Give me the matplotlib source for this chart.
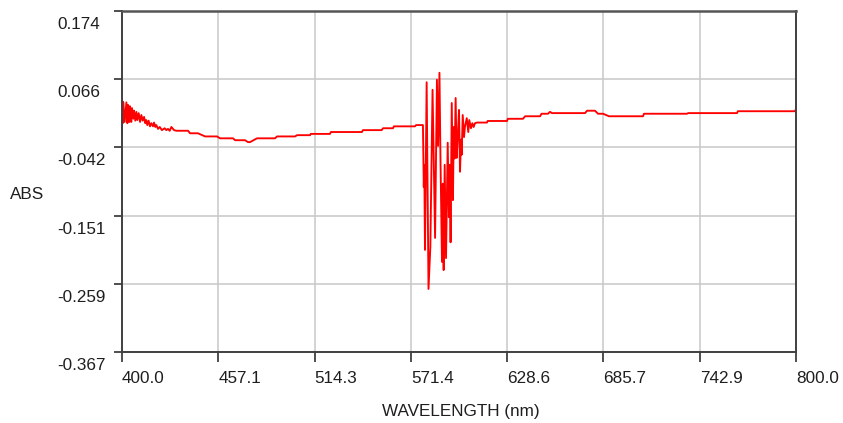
import matplotlib
matplotlib.use("Agg")
from matplotlib import pyplot as plt
from matplotlib.transforms import ScaledTranslation

plt.rcParams["font.family"] = "Liberation Sans"
plt.rcParams["font.size"] = 12.3

# Absorbance scan, 400-800 nm
wavelength = [
    400.0, 400.2, 400.4, 400.8, 401.6, 402.6, 403.2, 403.6, 404.4, 404.7,
    405.5, 405.9, 406.7, 407.1, 407.9, 408.5, 409.1, 409.9, 410.7, 411.5,
    412.3, 413.1, 413.8, 414.4, 415.0, 415.8, 416.6, 417.4, 418.4, 419.0,
    419.8, 420.4, 421.4, 422.4, 423.7, 425.3, 426.3, 427.3, 428.3, 429.3,
    430.9, 432.2, 439.2, 440.4, 445.1, 449.3, 456.4, 458.2, 465.9, 467.1,
    473.0, 474.8, 476.0, 480.1, 490.8, 492.0, 502.7, 503.9, 511.6, 512.0,
    523.4, 524.0, 542.4, 543.0, 554.1, 554.9, 560.8, 561.4, 573.9, 574.5,
    578.6,
    579.1, 579.4, 579.8, 580.8, 581.9, 583.0, 584.3, 585.0, 585.8, 586.9,
    587.6, 588.4, 589.0, 589.9, 590.4, 590.9, 591.5, 592.3, 593.3, 594.0,
    594.5, 595.0, 595.7, 596.4, 596.9, 597.4, 598.0, 598.6, 599.2, 600.0,
    600.6, 601.2, 601.6, 602.2, 603.0, 603.5, 604.6, 605.5, 606.1, 607.1,
    607.9, 608.7, 609.5, 610.7,
    616.6, 617.0, 628.5, 629.0, 638.0, 639.2, 648.1, 649.0, 652.8, 654.0,
    655.2, 674.8, 676.0, 680.7, 682.5, 685.5, 689.0, 709.2, 709.8, 735.3,
    736.0, 765.0, 765.5, 799.4, 800.0,
]
absorbance = [
    -0.018, 0.031, -0.004, 0.029, -0.002, 0.029, -0.004, 0.025, -0.002, 0.023,
    -0.002, 0.020, 0.003, 0.016, 0.000, 0.014, 0.001, 0.012, -0.002, 0.009,
    0.000, 0.006, -0.004, 0.001, -0.007, 0.000, -0.009, -0.004, -0.009, -0.003,
    -0.010, -0.007, -0.013, -0.010, -0.015, -0.012, -0.015, -0.013, -0.016, -0.010,
    -0.015, -0.016, -0.016, -0.020, -0.020, -0.025, -0.025, -0.028, -0.028, -0.031,
    -0.031, -0.034, -0.034, -0.028, -0.028, -0.025, -0.025, -0.023, -0.023, -0.021,
    -0.021, -0.018, -0.018, -0.015, -0.015, -0.012, -0.012, -0.009, -0.009, -0.007,
    -0.007,
    -0.105, -0.070, -0.205, 0.061, -0.267, -0.200, 0.049, -0.060, -0.186, 0.065,
    -0.040, 0.076, -0.059, -0.224, -0.100, -0.237, -0.070, -0.218, -0.035, -0.153,
    -0.070, -0.193, 0.028, -0.126, -0.010, -0.060, 0.036, -0.059, -0.030, 0.017,
    -0.081, -0.030, -0.054, 0.009, -0.026, -0.010, 0.004, -0.018, 0.001, -0.012,
    -0.004, -0.010, -0.004, -0.003,
    -0.003, -0.0005, -0.0005, 0.003, 0.003, 0.007, 0.007, 0.011, 0.011, 0.014,
    0.012, 0.012, 0.0158, 0.0158, 0.011, 0.011, 0.007, 0.007, 0.011, 0.011,
    0.012, 0.012, 0.015, 0.015, 0.0185,
]

xticks = [400.0, 457.1, 514.3, 571.4, 628.6, 685.7, 742.9, 800.0]
yticks = [-0.367, -0.259, -0.151, -0.042, 0.066, 0.174]

text_col = '#1e1e1e'
axis_col = '#404040'

fig = plt.figure(figsize=(8.43, 4.23), dpi=100)
ax = fig.add_axes([122/843, 1 - 352/423, 674/843, 341/423])

ax.plot(wavelength, absorbance, color='#ff0000', lw=1.35)

ax.set_xlim(400, 800)
ax.set_ylim(-0.367, 0.174)
ax.set_xticks(xticks)
ax.set_xticklabels(['%.1f' % v for v in xticks])
ax.set_yticks(yticks)
ax.set_yticklabels(['%.3f' % v for v in yticks])

ax.grid(True, color='#c8c8c8', lw=1.1)
ax.set_axisbelow(True)
for s in ax.spines.values():
    s.set_color(axis_col)
    s.set_linewidth(1.4)
ax.spines['top'].set_color('#555555')
ax.spines['top'].set_linewidth(1.8)

ax.tick_params(axis='x', length=7.2, width=1.3, color=axis_col, pad=15.1,
               labelcolor=text_col)
ax.tick_params(axis='y', length=5.8, width=1.3, color=axis_col, pad=41,
               labelcolor=text_col)

for lab in ax.get_xticklabels():
    lab.set_ha('left')
    lab.set_va('baseline')
shift = ScaledTranslation(0, -0.18, fig.dpi_scale_trans)
for lab in ax.get_yticklabels():
    lab.set_ha('left')
    lab.set_va('baseline')
    lab.set_transform(lab.get_transform() + shift)

fig.text(10/843, 1 - 199/423, 'ABS', color=text_col, ha='left', va='baseline')
fig.text(461/843, 1 - 416/423, 'WAVELENGTH (nm)', color=text_col,
         ha='center', va='baseline')

fig.savefig('out.png', dpi=100)
